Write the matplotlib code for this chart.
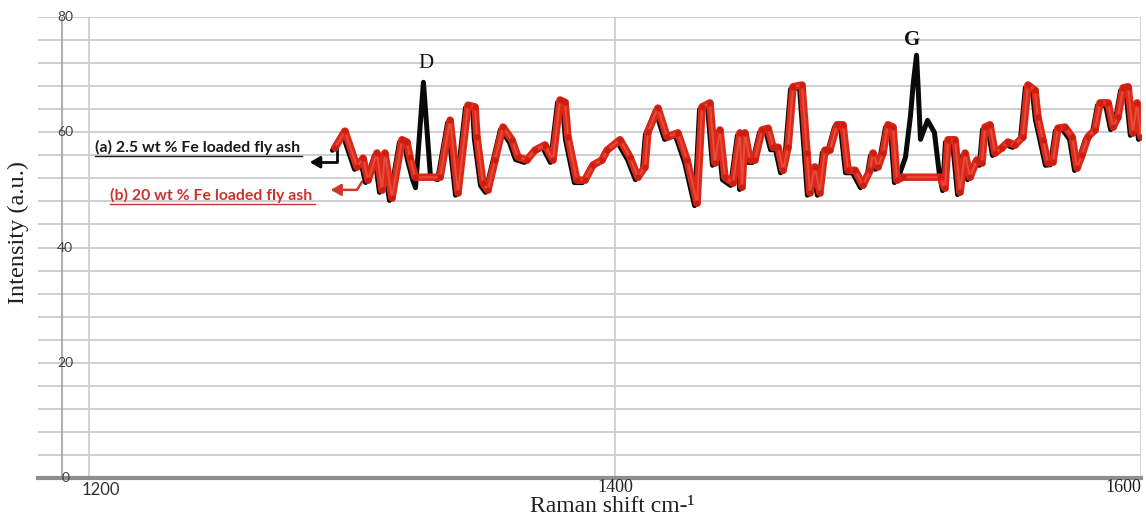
import numpy as np
import matplotlib
matplotlib.use("Agg")
import matplotlib.pyplot as plt
import matplotlib.transforms as mtransforms

# ---- data ----
# (b) 20 wt % Fe loaded fly ash : Raman shift (cm-1) and intensity (a.u.)
shift_b = [1293.5, 1297.3, 1301.9, 1304.2, 1306.1, 1309.5, 1311.4, 1312.5, 1315.2, 1319.0,
           1320.9, 1322.0, 1324.0, 1333.5, 1337.3, 1340.3, 1344.1, 1346.8, 1347.5, 1349.8,
           1351.7, 1354.4, 1357.4, 1360.8, 1363.1, 1366.5, 1369.6, 1373.4, 1376.4, 1379.1,
           1381.0, 1382.1, 1385.5, 1388.6, 1391.6, 1395.1, 1397.0, 1401.9, 1405.7, 1408.7,
           1411.4, 1412.5, 1416.3, 1419.8, 1423.9, 1427.4, 1431.2, 1433.1, 1436.1, 1438.0,
           1439.9, 1441.8, 1444.9, 1447.5, 1448.3, 1449.4, 1451.3, 1453.2, 1455.9, 1458.2,
           1460.1, 1462.0, 1463.9, 1465.8, 1467.7, 1471.1, 1473.0, 1474.1, 1476.0, 1477.9,
           1479.8, 1481.7, 1484.4, 1486.7, 1488.6, 1491.3, 1494.3, 1497.0, 1498.1, 1500.0,
           1501.9, 1503.8, 1505.7, 1507.2, 1509.5, 1523.6, 1525.5, 1526.6, 1529.3, 1531.2,
           1533.1, 1535.0, 1537.6, 1539.5, 1540.7, 1542.6, 1544.5, 1547.1, 1549.4, 1552.1,
           1555.1, 1557.0, 1559.7, 1560.8, 1562.7, 1564.6, 1566.5, 1568.4, 1571.1, 1573.8,
           1575.7, 1577.6, 1579.8, 1582.5, 1584.4, 1587.5, 1589.4, 1591.2, 1593.2, 1595.1,
           1596.9, 1598.5, 1600.0]
int_b = [57.3, 60.2, 54.0, 55.5, 51.7, 56.4, 50.0, 56.4, 48.6, 58.7,
         58.3, 55.7, 52.2, 52.2, 62.1, 49.5, 64.7, 64.4, 59.2, 51.2,
         50.0, 55.2, 60.9, 58.7, 55.7, 55.2, 56.9, 57.8, 55.2, 65.6,
         65.2, 59.2, 51.7, 51.7, 54.3, 55.2, 56.9, 58.7, 55.7, 52.2,
         54.0, 60.0, 64.2, 59.2, 59.9, 55.2, 47.7, 64.4, 65.1, 54.7,
         60.4, 52.2, 51.2, 59.9, 50.5, 59.9, 55.2, 55.2, 60.4, 60.7,
         57.4, 57.4, 53.4, 57.4, 67.9, 68.2, 56.4, 49.5, 54.0, 49.5,
         56.9, 56.9, 61.3, 61.3, 53.4, 53.4, 50.8, 53.4, 56.4, 54.0,
         56.4, 61.3, 60.9, 51.7, 52.2, 52.2, 50.3, 58.7, 58.7, 49.6,
         56.4, 52.2, 55.2, 54.7, 60.9, 61.3, 56.4, 57.3, 58.3, 57.8,
         59.2, 68.2, 67.3, 62.6, 58.7, 54.7, 54.8, 60.7, 60.9, 59.2,
         53.8, 56.1, 59.2, 60.4, 65.1, 65.1, 60.9, 62.6, 67.7, 67.9,
         59.9, 65.1, 59.2]

# (a) 2.5 wt % Fe loaded fly ash : same profile plus the D and G bands
d_band_shift = [1325.1, 1328.1, 1330.8]
d_band_int = [50.8, 69.1, 52.6]
g_band_shift = [1509.1, 1511.4, 1513.3, 1514.4, 1515.6, 1516.3, 1517.1, 1519.8, 1522.4, 1524.3]
g_band_int = [53.1, 56.1, 63.3, 69.1, 73.8, 67.3, 59.2, 62.5, 60.4, 53.1]

x_ticks = [1200, 1400, 1600]
y_ticks = [0, 20, 40, 60, 80]

# build series (a)
sb = np.array(shift_b)
ib = np.array(int_b)
keep = ~(((sb > 1324.5) & (sb < 1333.0)) | ((sb > 1509.0) & (sb < 1525.0)))
shift_a = np.concatenate([sb[keep], d_band_shift, g_band_shift])
int_a = np.concatenate([ib[keep], d_band_int, g_band_int])
order = np.argsort(shift_a)
shift_a = shift_a[order]
int_a = int_a[order]

# ---- figure ----
W, H = 1146, 519
fig = plt.figure(figsize=(W / 100, H / 100), dpi=100)
ax = fig.add_axes([38 / W, 1 - 478 / H, (1141 - 38) / W, (478 - 17) / H])
ax.set_xlim(1180.6, 1600)
ax.set_ylim(0, 80)
for s in ax.spines.values():
    s.set_visible(False)
ax.set_xticks([])
ax.set_yticks([])

grid_c = '#cbcbcb'
for v in np.arange(4, 81, 4):
    ax.axhline(v, color=grid_c, lw=1.3, zorder=0)
for xt in x_ticks:
    ax.axvline(xt, color=grid_c, lw=1.2, zorder=0)
ax.axvline(1189.7, color='#a0a0a0', lw=1.2, zorder=0)
ax.axhline(0, color='#8e8e8e', lw=3, zorder=1, clip_on=False)

# series
shadow = mtransforms.offset_copy(ax.transData, fig=fig, x=-2.5, y=-2.5, units='dots')
ax.plot(shift_a, int_a, color='#0a0a0a', lw=3.6, transform=shadow,
        solid_joinstyle='round', solid_capstyle='round', zorder=3)
ax.plot(sb, ib, color='#dc2818', lw=5.4, solid_joinstyle='round',
        solid_capstyle='round', zorder=4)
ax.plot(sb, ib, color='#f06a5a', lw=1.4, alpha=0.55, solid_joinstyle='round', zorder=5)
ax.plot(sb, ib, ls='none', marker='o', ms=4.5, mfc='#cc1e10', mec='none', zorder=6)

# tick labels
sans = ['Lato', 'DejaVu Sans']
serif = ['Liberation Serif', 'DejaVu Serif']
for v in y_ticks:
    ax.text(1191.0, v, str(v), ha='center', va='center', fontsize=10,
            color='#404040', family=sans, zorder=2)
ax.text(1204.6, -2.1, str(x_ticks[0]), ha='center', va='center', fontsize=12,
        color='#303030', family=sans, clip_on=False)
ax.text(1400, -1.7, str(x_ticks[1]), ha='center', va='center', fontsize=13,
        color='#202020', family=serif, clip_on=False)
ax.text(1600, -1.7, str(x_ticks[2]), ha='right', va='center', fontsize=13,
        color='#202020', family=serif, clip_on=False)

fig.text(612 / W, 1 - 507 / H, 'Raman shift cm-¹', ha='center', va='center',
         fontsize=17, family=serif, color='#202020')
fig.text(18 / W, 1 - 233 / H, 'Intensity (a.u.)', ha='center', va='center',
         rotation=90, fontsize=17.5, family=serif, color='#202020')

# band labels
ax.text(1328.1, 71.9, 'D', ha='center', va='center', fontsize=15, family=serif, color='#111111')
ax.text(1513.0, 76.0, 'G', ha='center', va='center', fontsize=15, family=serif,
        color='#111111', fontweight='bold')

# series labels with arrows
ta = ax.text(1202.3, 57.4, '(a) 2.5 wt % Fe loaded fly ash', ha='left', va='center',
             fontsize=11.4, family=sans, fontweight='bold', color='#1a1a1a')
tb = ax.text(1208.0, 49.1, '(b) 20 wt % Fe loaded fly ash', ha='left', va='center',
             fontsize=11.4, family=sans, fontweight='bold', color='#c8342c')
ax.plot([1202.3, 1281.0], [55.9, 55.9], color='#1a1a1a', lw=1.0)
ax.plot([1208.0, 1285.9], [47.6, 47.6], color='#c8342c', lw=1.0)

ax.plot([1294.3, 1294.3, 1285.0], [57.3, 54.8, 54.8], color='#0a0a0a', lw=2, zorder=2)
ax.annotate('', xy=(1282.9, 54.8), xytext=(1287.5, 54.8),
            arrowprops=dict(arrowstyle='-|>,head_length=0.6,head_width=0.35',
                            color='#0a0a0a', lw=2))
ax.plot([1303.8, 1301.9, 1293.0], [51.4, 50.0, 50.0], color='#d0362c', lw=1.8, zorder=2)
ax.annotate('', xy=(1290.9, 50.0), xytext=(1295.5, 50.0),
            arrowprops=dict(arrowstyle='-|>,head_length=0.6,head_width=0.35',
                            color='#d0362c', lw=1.8))

fig.savefig('out.png', dpi=100)
